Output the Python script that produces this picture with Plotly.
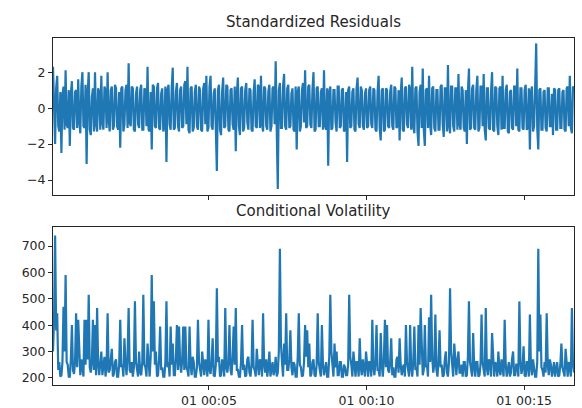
import pandas as pd
import plotly.graph_objects as go
from plotly.subplots import make_subplots

# ---- data (one sample every 2 s) ----
start_time = "1970-01-01 00:00:03"
step_seconds = 2

std_resid = [
    2.3, -0.8, -2.0, 1.1, 1.8, -1.0, -1.3, 0.9, -2.5, 0.7, 1.2, -1.2, 2.1, -0.9, -1.1, 1.0, -2.1, 0.8, 1.5, -1.1,
    -1.2, 0.9, 1.0, -1.1, 1.6, -0.7, -1.4, 1.2, 2.0, -1.0, -1.1, 1.3, -3.1, 0.8, 2.0, -1.2, -1.5, 0.6, 1.1, -1.3,
    2.0, -0.9, -1.3, 1.1, 0.9, -1.2, 1.8, -0.8, -1.2, 1.2, 1.0, -1.1, 2.0, -0.7, -1.3, 1.0, 1.2, -1.2, -1.0, 1.3,
    1.1, -1.0, -1.2, 0.9, -2.2, 1.1, 1.2, -1.3, -0.9, 1.0, 1.3, -1.1, 2.5, -0.8, -1.0, 1.2, 1.1, -1.2, -1.3, 0.8,
    1.2, -0.9, -1.1, 1.0, 1.3, -1.2, -1.2, 1.1, 1.0, -1.0, 2.3, -1.2, -1.3, 0.9, -2.3, 1.3, 1.2, -1.0, -1.1, 1.1,
    1.4, -1.1, -1.2, 0.8, 1.1, -1.3, -1.0, 1.2, -3.0, 1.0, 1.3, -0.9, -1.2, 1.1, 2.25, -1.2, -1.1, 0.9, 1.4, -1.0,
    -1.3, 1.0, 1.2, -1.1, -1.0, 1.3, 1.5, -0.9, 2.3, -1.2, -1.4, 1.1, 1.2, -1.3, -1.1, 0.9, 1.3, -1.0, -1.2, 1.2,
    1.0, -1.2, -1.3, 1.1, 1.4, -0.9, 1.8, -1.3, -1.1, 1.2, 1.8, -1.0, -1.2, 0.8, 1.1, -1.1, -3.5, 1.0, 1.3, -1.2,
    -1.5, 0.9, 1.7, -1.1, -1.0, 1.3, 1.2, -1.2, -1.3, 1.0, 1.1, -0.9, -1.2, 1.2, -2.4, 0.8, 1.7, -1.0, -1.5, 1.1,
    1.2, -1.3, -1.1, 1.0, 1.4, -0.8, -1.2, 1.1, 1.0, -1.2, -1.3, 0.9, 1.6, -1.0, -1.1, 1.3, 1.2, -1.1, 1.8, -0.9,
    -1.3, 1.2, 1.1, -1.0, -1.2, 0.9, 1.3, -1.3, -1.0, 1.1, 1.2, -0.9, 2.6, -1.2, -4.5, 1.0, 1.4, -1.1, -1.1, 1.2,
    1.9, -1.0, -1.2, 1.1, 1.3, -1.1, -1.0, 0.8, 1.1, -1.2, -1.3, 1.2, -2.3, 0.9, 1.2, -1.3, -1.0, 1.0, 1.4, -0.8,
    2.1, -1.1, -1.0, 1.2, 1.3, -0.9, -1.1, 1.0, 2.0, -1.3, -1.2, 1.1, 1.2, -1.0, -1.0, 0.9, 1.1, -1.2, 2.1, -1.0,
    -1.2, 1.1, -3.2, 0.9, 1.2, -1.2, -1.1, 1.0, 1.0, -0.8, -1.3, 1.2, 1.2, -1.1, -1.0, 1.0, 1.1, -1.3, -1.2, 0.9,
    -3.0, 1.0, 1.2, -1.1, -1.0, 0.9, 1.1, -1.2, -1.3, 1.1, 1.7, -0.9, -1.1, 1.2, 1.0, -1.0, -1.2, 0.8, 1.1, -1.1,
    -1.0, 1.0, 1.2, -0.9, -1.1, 1.1, 1.0, -1.2, -1.3, 0.9, 1.8, -1.1, -1.8, 1.0, 1.1, -1.3, -1.2, 1.1, 1.0, -1.0,
    -1.1, 0.9, 1.3, -1.0, -1.2, 1.2, 1.1, -1.1, -1.0, 1.0, -1.8, 0.8, 1.7, -1.2, -1.3, 1.1, 1.2, -0.9, -1.1, 1.3,
    1.0, -1.2, 2.3, -1.0, -1.4, 1.1, 1.2, -1.3, -2.1, 0.9, 1.3, -1.1, 2.2, -1.2, -2.1, 1.0, 1.1, -1.1, 1.8, -0.9,
    -1.5, 1.1, 1.2, -1.1, -1.3, 1.0, 1.0, -1.2, -1.2, 1.2, 1.3, -0.9, -1.6, 1.1, 1.1, -1.3, 2.4, -1.0, -1.4, 1.2,
    1.2, -1.0, -1.3, 1.1, 1.1, -1.2, 1.9, -0.9, -1.2, 1.2, 1.0, -1.1, -1.3, 1.0, -2.0, 0.9, 2.2, -1.2, -1.1, 1.1,
    1.3, -1.1, -1.2, 1.0, 1.8, -1.3, -1.1, 1.2, 1.2, -1.0, 1.9, -1.2, -1.8, 1.1, 1.1, -1.1, -1.2, 0.9, 2.0, -1.2,
    -1.3, 1.2, 1.1, -1.0, -1.5, 1.1, 1.2, -1.2, 1.8, -1.1, -1.1, 1.0, 1.3, -1.3, -1.4, 0.9, 1.0, -1.1, -1.2, 1.2,
    1.2, -1.0, 2.2, -1.2, -1.3, 1.1, 1.1, -1.1, -1.2, 1.0, 1.3, -1.2, -1.1, 1.1, -2.3, 0.9, 1.2, -1.3, -1.0, 1.1,
    3.6, -1.1, -2.3, 1.0, 1.1, -1.2, -1.2, 0.9, 1.0, -1.1, -1.3, 1.1, 1.1, -1.0, -1.0, 0.8, -1.5, 1.1, 1.0, -1.2,
    -1.2, 1.0, 1.1, -1.1, -1.1, 0.9, 1.0, -1.2, -1.3, 1.1, 1.2, -1.0, 1.8, -1.1, -1.4, 1.2, 1.1,
]

cond_vol = [
    300, 420, 740, 380, 445, 230, 260, 205, 210, 260, 470, 300, 590, 260, 250, 205, 205, 270, 400, 230,
    215, 260, 445, 240, 420, 260, 210, 270, 230, 205, 420, 250, 420, 270, 515, 240, 220, 260, 420, 230,
    400, 210, 465, 250, 210, 270, 300, 210, 240, 280, 205, 240, 445, 220, 230, 270, 310, 205, 215, 260,
    270, 205, 205, 250, 420, 240, 250, 205, 350, 260, 210, 280, 465, 230, 220, 260, 205, 240, 490, 260,
    230, 205, 300, 220, 210, 260, 515, 250, 240, 205, 330, 260, 205, 280, 590, 300, 490, 250, 300, 205,
    210, 270, 395, 230, 240, 205, 205, 260, 490, 240, 260, 205, 395, 250, 330, 210, 210, 280, 400, 230,
    395, 260, 220, 270, 395, 230, 395, 240, 230, 205, 395, 250, 210, 280, 260, 205, 205, 240, 420, 260,
    230, 205, 300, 240, 210, 270, 250, 205, 420, 230, 215, 260, 350, 210, 205, 250, 540, 260, 280, 205,
    210, 270, 250, 205, 465, 240, 220, 260, 400, 230, 210, 280, 395, 250, 465, 230, 230, 205, 205, 260,
    400, 230, 250, 205, 210, 270, 280, 220, 205, 250, 420, 240, 230, 205, 310, 250, 210, 270, 260, 205,
    445, 250, 220, 270, 205, 240, 300, 205, 240, 260, 210, 230, 280, 205, 220, 300, 690, 330, 260, 205,
    330, 250, 445, 230, 230, 270, 380, 240, 210, 260, 250, 205, 205, 280, 445, 250, 240, 205, 210, 260,
    400, 280, 380, 240, 330, 205, 215, 260, 270, 210, 205, 250, 445, 260, 230, 205, 400, 250, 210, 240,
    260, 205, 205, 280, 515, 300, 250, 205, 330, 240, 300, 210, 210, 260, 260, 205, 205, 250, 240, 210,
    210, 250, 515, 280, 250, 205, 300, 230, 205, 260, 260, 205, 350, 240, 210, 270, 240, 205, 300, 230,
    205, 260, 260, 205, 420, 240, 210, 260, 400, 230, 230, 205, 370, 250, 205, 270, 420, 240, 400, 230,
    220, 260, 350, 210, 240, 205, 205, 270, 280, 220, 350, 250, 210, 240, 250, 205, 400, 260, 220, 205,
    400, 240, 205, 260, 395, 230, 240, 205, 400, 250, 465, 270, 210, 230, 400, 240, 250, 205, 430, 260,
    515, 280, 220, 250, 440, 230, 205, 260, 380, 240, 250, 205, 210, 270, 300, 220, 205, 260, 540, 300,
    240, 205, 330, 250, 210, 270, 300, 220, 220, 250, 205, 260, 260, 205, 210, 280, 490, 260, 230, 205,
    370, 240, 205, 260, 260, 205, 210, 250, 440, 260, 230, 205, 465, 240, 210, 270, 260, 205, 370, 250,
    205, 260, 250, 205, 300, 230, 210, 270, 240, 205, 420, 250, 205, 240, 260, 205, 220, 270, 300, 210,
    210, 250, 250, 205, 490, 260, 215, 240, 320, 210, 205, 260, 260, 205, 440, 240, 210, 270, 240, 205,
    205, 260, 690, 300, 440, 240, 230, 205, 260, 220, 445, 250, 210, 270, 250, 205, 230, 260, 205, 240,
    260, 205, 210, 250, 330, 240, 220, 205, 310, 250, 205, 260, 240, 205, 465, 250, 220,
]

resid_ticks = [-4, -2, 0, 2]
resid_tick_text = ["\u22124", "\u22122", "0", "2"]
vol_ticks = [200, 300, 400, 500, 600, 700]
time_tick_vals = ["1970-01-01 00:05:00", "1970-01-01 00:10:00", "1970-01-01 00:15:00"]
time_tick_text = ["01 00:05", "01 00:10", "01 00:15"]
titles = ["Standardized Residuals", "Conditional Volatility"]

times = pd.date_range(start=start_time, periods=len(std_resid), freq=f"{step_seconds}s")

# ---- figure ----
blue = "#1f77b4"
ink = "#262626"
fig = make_subplots(rows=2, cols=1, shared_xaxes=False)
fig.add_trace(go.Scatter(x=times, y=std_resid, mode="lines",
                         line=dict(color=blue, width=2.2), showlegend=False), row=1, col=1)
fig.add_trace(go.Scatter(x=times, y=cond_vol, mode="lines",
                         line=dict(color=blue, width=2.2), showlegend=False), row=2, col=1)

xr = [times[0], times[-1]]
axis_common = dict(showline=True, mirror=True, linecolor=ink, linewidth=1,
                   ticks="outside", ticklen=4, tickwidth=1, tickcolor=ink,
                   showgrid=False, zeroline=False, automargin=False,
                   tickfont=dict(family="DejaVu Sans", size=12.5, color=ink))

fig.update_xaxes(range=xr, tickvals=time_tick_vals, ticktext=time_tick_text,
                 **axis_common)
fig.update_xaxes(showticklabels=False, row=1, col=1)
fig.update_xaxes(domain=[0, 1])
fig.update_yaxes(**axis_common)
fig.update_yaxes(range=[-4.83, 3.9], tickvals=resid_ticks,
                 ticktext=resid_tick_text, row=1, col=1)
fig.update_yaxes(range=[173, 772], tickvals=vol_ticks, row=2, col=1)

top_dom = [0.5476, 1.0]
bot_dom = [0.0, 0.4553]
fig.layout.yaxis.domain = top_dom
fig.layout.yaxis2.domain = bot_dom

for title, dom in zip(titles, [top_dom, bot_dom]):
    fig.add_annotation(text=title, xref="paper", yref="paper", x=0.5, y=dom[1],
                       yshift=5, yanchor="bottom", showarrow=False,
                       font=dict(family="DejaVu Sans", size=15, color=ink))

fig.update_layout(width=582, height=408, plot_bgcolor="white", paper_bgcolor="white",
                  margin=dict(l=53, r=8, t=38, b=23), showlegend=False)

fig.write_html("out.html", config={"displayModeBar": False},
               post_script="document.body.style.margin='0';document.body.style.overflow='hidden';")
